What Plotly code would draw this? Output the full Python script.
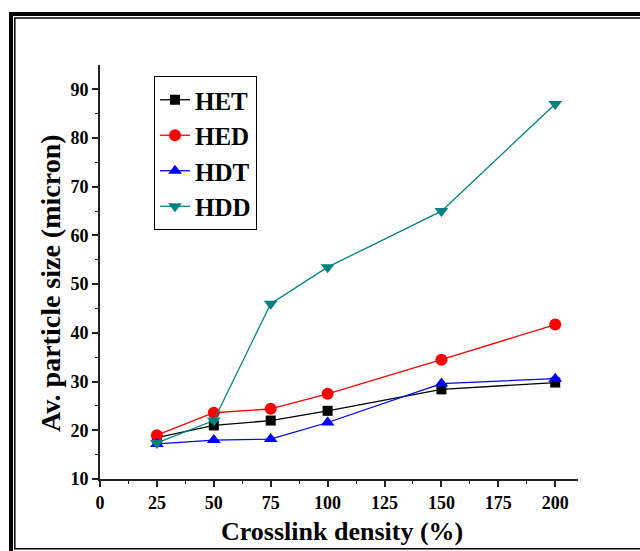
import plotly.graph_objects as go

crosslink = [25, 50, 75, 100, 150, 200]
het = [18.5, 21.0, 22.0, 24.0, 28.4, 29.8]
hed = [19.0, 23.6, 24.4, 27.5, 34.5, 41.7]
hdt = [17.2, 18.0, 18.2, 21.6, 29.6, 30.6]
hdd = [17.4, 22.0, 46.0, 53.5, 65.0, 87.0]

series = [
    ("HET", het, "black", "square", 10),
    ("HED", hed, "red", "circle", 12),
    ("HDT", hdt, "blue", "triangle-up", 12),
    ("HDD", hdd, "#008080", "triangle-down", 12),
]

W, H = 640, 551
L, R, T, B = 100, 62, 65, 72
pw, ph = W - L - R, H - T - B

def px(x):
    return (x - L) / pw

def py(y):
    return (H - B - y) / ph

fig = go.Figure()
for i, (name, vals, col, sym, sz) in enumerate(series):
    fig.add_trace(go.Scatter(
        x=crosslink, y=vals, name=name, mode="lines+markers",
        line=dict(color=col, width=1.3),
        marker=dict(symbol=sym, size=sz, color=col),
    ))

font_family = "Liberation Serif"
fig.update_layout(
    width=W, height=H,
    margin=dict(l=L, r=R, t=T, b=B),
    paper_bgcolor="white", plot_bgcolor="white",
    showlegend=True,
    legend=dict(
        x=px(154), y=py(76), xanchor="left", yanchor="top",
        bordercolor="black", borderwidth=1, bgcolor="white",
        font=dict(family=font_family, size=25, color="black", weight="bold"),
        itemwidth=30,
    ),
    xaxis=dict(
        range=[0, 210], tickvals=[0, 25, 50, 75, 100, 125, 150, 175, 200],
        automargin=False,
        showgrid=False, zeroline=False, showline=True, linecolor="#222", linewidth=2,
        ticks="outside", ticklen=6, tickwidth=1.5, tickcolor="#222",
        minor=dict(tickvals=[12.5, 37.5, 62.5, 87.5, 112.5, 137.5, 162.5, 187.5],
                   ticks="outside", ticklen=3, tickwidth=1.2, tickcolor="#222"),
        tickfont=dict(family=font_family, size=18, color="black", weight="bold"),
    ),
    yaxis=dict(
        range=[10, 95], tickvals=[10, 20, 30, 40, 50, 60, 70, 80, 90],
        automargin=False,
        showgrid=False, zeroline=False, showline=True, linecolor="#222", linewidth=2,
        ticks="outside", ticklen=6, tickwidth=1.5, tickcolor="#222",
        minor=dict(tickvals=[15, 25, 35, 45, 55, 65, 75, 85],
                   ticks="outside", ticklen=3, tickwidth=1.2, tickcolor="#222"),
        tickfont=dict(family=font_family, size=18, color="black", weight="bold"),
    ),
    annotations=[
        dict(text="Av. particle size (micron)", textangle=-90, showarrow=False,
             xref="paper", yref="paper", x=px(50), y=py(283),
             xanchor="center", yanchor="middle",
             font=dict(family=font_family, size=28, color="black", weight="bold")),
        dict(text="Crosslink density (%)", showarrow=False,
             xref="paper", yref="paper", x=px(342), y=py(531),
             xanchor="center", yanchor="middle",
             font=dict(family=font_family, size=26, color="black", weight="bold")),
    ],
    shapes=[
        dict(type="rect", xref="paper", yref="paper",
             x0=px(11), x1=px(700), y0=py(14), y1=py(600),
             line=dict(color="black", width=4)),
        dict(type="rect", xref="paper", yref="paper",
             x0=px(14.8), x1=px(700), y0=py(18), y1=py(548.8),
             line=dict(color="black", width=1.5)),
    ],
)

fig.write_html("out.html")
